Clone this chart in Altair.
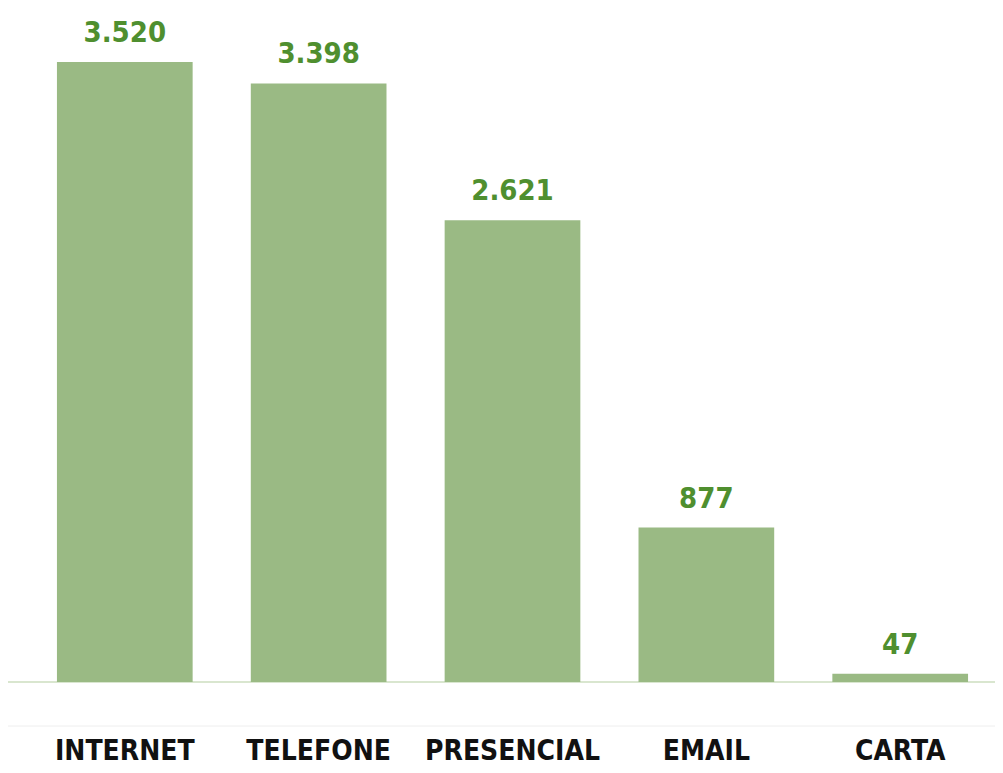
import altair as alt
import pandas as pd

categories = ["INTERNET", "TELEFONE", "PRESENCIAL", "EMAIL", "CARTA"]
values = [3520, 3398, 2621, 877, 47]

df = pd.DataFrame({"canal": categories, "valor": values})
df["rotulo"] = [f"{v:,}".replace(",", ".") for v in values]

W, H = 965, 674
L = 22
FONT = "'DejaVu Sans Condensed', 'Liberation Sans Narrow', 'Roboto Condensed', 'Liberation Sans', sans-serif"

x = alt.X("canal:N", sort=categories,
          scale=alt.Scale(paddingInner=0.3, paddingOuter=0.139),
          axis=alt.Axis(title=None, domain=False, ticks=False, grid=False,
                        labelAngle=0, labelFont=FONT, labelFontWeight="bold",
                        labelFontSize=28, labelColor="#111111", labelPadding=55,
                        labelLimit=0))
y = alt.Y("valor:Q", scale=alt.Scale(domain=[0, 3826.5], nice=False, zero=True),
          axis=None)

bars = alt.Chart(df).mark_bar(color="#9aba84").encode(x=x, y=y)
text = alt.Chart(df).mark_text(font=FONT, fontWeight="bold", fontSize=29,
                               color="#4f8f2f", baseline="alphabetic", dy=-20).encode(
    x=x, y=y, text="rotulo:N")

base = alt.Chart(df).mark_rule(color="#d9e6cf", strokeWidth=2).encode(
    x=alt.value(-L), x2=alt.value(W + 10), y=alt.value(H))
faint = alt.Chart(df).mark_rule(color="#f6f6f6", strokeWidth=1).encode(
    x=alt.value(-L), x2=alt.value(W + 10), y=alt.value(H + 44))

chart = alt.layer(faint, base, bars, text).properties(
    width=W, height=H,
    autosize=alt.AutoSizeParams(type="none"),
    padding={"left": L, "top": 0, "right": 0, "bottom": 83},
).configure_view(stroke=None)

chart.save("out.html", embed_options={"renderer": "svg", "actions": False})
